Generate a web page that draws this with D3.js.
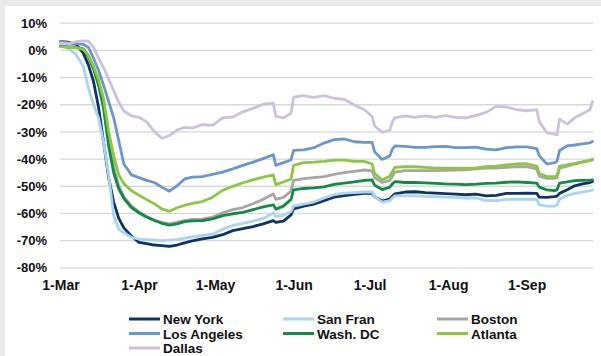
<!DOCTYPE html>
<html>
<head>
<meta charset="utf-8">
<script src="https://cdn.jsdelivr.net/npm/d3@7/dist/d3.min.js"></script>
<style>
  html, body { margin: 0; padding: 0; background: #e9eaec; }
  svg { display: block; }
  text { font-family: "Liberation Sans", Arial, sans-serif; font-weight: bold; fill: #111; }
</style>
</head>
<body>
<svg id="chart" width="601" height="356"></svg>
<script>
// Change in activity vs. baseline, %, by metro area (days counted from 1 March 2020)
const dayOffsets = [0, 3, 6, 9, 11, 13, 15, 17, 19, 21, 23, 25, 28, 31, 34, 37, 40, 43, 46, 49,
  52, 56, 60, 64, 68, 72, 76, 80, 84, 85, 88, 91, 92, 96, 100, 104, 108, 112, 116, 120,
  123, 124, 127, 130, 131, 132, 136, 140, 144, 148, 152, 156, 160, 164, 168, 172, 176, 180, 184, 188,
  189, 192, 195, 196, 197, 200, 203, 206, 209, 210];

const newYork = [3.0, 2.8, 2.2, -1.2, -5.5, -11.5, -21.0, -34.0, -47.0, -56.0, -62.0, -65.5, -68.5, -70.8, -71.3, -71.8, -72.0, -72.3, -71.8, -71.0,
  -70.3, -69.5, -69.0, -68.0, -66.5, -65.8, -65.0, -64.0, -62.8, -63.5, -63.0, -60.7, -58.5, -57.5, -56.8, -55.5, -54.2, -53.6, -53.2, -52.8,
  -52.7, -54.0, -55.6, -54.8, -53.8, -53.0, -52.3, -52.2, -52.5, -52.7, -52.9, -53.1, -53.3, -53.1, -53.7, -53.5, -52.8, -52.8, -52.7, -52.8,
  -54.2, -54.3, -54.0, -53.8, -52.8, -51.5, -50.0, -49.3, -48.8, -48.4];

const sanFran = [1.5, 0.5, -1.5, -6.0, -14.0, -20.0, -25.0, -34.0, -46.0, -61.0, -66.0, -67.3, -69.0, -69.6, -69.8, -70.0, -70.2, -70.0, -69.7, -69.3,
  -68.8, -68.3, -67.8, -66.0, -64.6, -63.8, -63.0, -62.0, -60.0, -61.3, -60.9, -59.5, -57.5, -56.8, -56.0, -54.5, -53.3, -52.7, -52.5, -52.3,
  -52.2, -54.0, -56.0, -55.5, -54.5, -53.7, -53.7, -53.7, -53.9, -54.0, -54.2, -54.3, -54.5, -54.5, -55.5, -55.5, -55.0, -55.0, -55.0, -55.0,
  -57.0, -57.5, -57.5, -57.0, -55.0, -53.5, -52.8, -52.3, -51.8, -51.5];

const boston = [1.5, 1.2, 1.0, 0.3, -2.0, -6.5, -12.0, -20.0, -32.0, -43.0, -50.0, -54.0, -57.5, -59.6, -61.3, -62.5, -63.5, -64.0, -63.5, -62.8,
  -62.4, -62.3, -61.5, -60.0, -58.8, -58.0, -56.6, -55.0, -53.0, -55.0, -54.3, -52.0, -48.0, -47.4, -47.0, -46.6, -45.8, -45.2, -44.7, -44.2,
  -44.5, -47.0, -48.8, -48.0, -46.5, -45.0, -44.4, -44.4, -44.4, -44.4, -44.3, -44.2, -44.1, -43.8, -43.5, -43.5, -43.2, -43.0, -43.0, -43.8,
  -46.5, -47.3, -47.3, -47.0, -43.5, -42.8, -42.0, -41.3, -40.8, -40.5];

const losAngeles = [3.0, 2.6, 2.3, 2.0, 1.0, -3.0, -7.5, -13.0, -19.0, -25.0, -33.5, -42.0, -46.0, -47.0, -48.0, -48.8, -50.5, -52.0, -50.0, -47.5,
  -46.8, -46.6, -45.8, -45.0, -43.8, -42.5, -41.3, -40.0, -38.6, -42.5, -41.5, -40.5, -37.0, -36.8, -36.0, -34.3, -33.0, -32.8, -33.8, -34.0,
  -34.0, -37.5, -40.3, -39.0, -36.5, -35.3, -35.5, -35.9, -35.9, -35.6, -35.5, -36.0, -36.0, -35.8, -36.5, -36.8, -36.0, -35.7, -35.7, -36.3,
  -39.0, -42.0, -41.5, -41.0, -37.0, -35.3, -35.0, -34.6, -34.2, -33.7];

const washDC = [1.3, 1.1, 1.0, 0.3, -2.5, -7.0, -13.0, -21.5, -35.4, -45.2, -51.1, -54.6, -58.0, -60.0, -61.5, -62.8, -63.8, -64.5, -64.0, -63.2,
  -62.9, -62.8, -62.2, -61.0, -60.3, -59.8, -58.8, -57.8, -57.0, -58.6, -57.5, -55.0, -51.5, -51.0, -50.8, -50.4, -49.5, -49.0, -48.6, -48.0,
  -47.8, -49.8, -51.4, -50.5, -49.3, -48.5, -48.8, -48.8, -48.9, -49.1, -49.3, -49.4, -49.6, -49.4, -49.1, -49.0, -48.7, -48.6, -48.8, -49.0,
  -50.5, -51.5, -51.8, -51.5, -49.0, -48.6, -48.1, -48.0, -47.9, -47.8];

const atlanta = [1.2, 1.0, 0.8, 0.2, -2.0, -6.0, -11.0, -18.0, -30.0, -39.0, -46.0, -49.2, -51.8, -53.5, -55.1, -56.6, -58.5, -59.4, -58.1, -57.2,
  -56.5, -55.8, -54.2, -51.7, -50.2, -48.9, -47.8, -46.8, -46.0, -49.6, -48.6, -47.5, -42.5, -41.5, -41.3, -41.0, -40.6, -40.6, -41.0, -41.0,
  -42.0, -45.5, -47.8, -46.5, -44.8, -43.2, -43.0, -43.0, -43.2, -43.5, -43.5, -43.5, -43.5, -43.4, -43.0, -42.8, -42.3, -42.0, -41.9, -42.8,
  -45.5, -46.6, -46.6, -46.3, -42.8, -42.3, -41.8, -41.2, -40.6, -40.2];

const dallas = [2.5, 2.2, 3.0, 3.3, 3.2, 1.0, -3.0, -6.5, -10.8, -15.0, -19.3, -22.5, -24.3, -24.8, -26.5, -30.0, -32.5, -31.5, -29.5, -28.5,
  -28.8, -27.5, -27.8, -25.0, -24.7, -22.8, -21.5, -20.0, -19.6, -24.5, -25.0, -23.3, -17.4, -16.8, -17.5, -16.8, -17.8, -18.2, -20.3, -22.0,
  -24.5, -28.0, -30.3, -29.5, -26.5, -25.0, -24.3, -24.8, -24.3, -24.8, -24.2, -24.8, -25.0, -24.1, -23.0, -20.8, -21.0, -22.0, -22.4, -22.0,
  -26.5, -30.5, -31.0, -31.3, -25.5, -27.3, -25.0, -23.5, -22.0, -19.0];

const cities = ["New York", "San Fran", "Boston", "Los Angeles", "Wash. DC", "Atlanta", "Dallas"];
const cityValues = [newYork, sanFran, boston, losAngeles, washDC, atlanta, dallas];
const cityColors = ["#0e3466", "#a9d4f2", "#a6a6a6", "#6b98cc", "#138a45", "#8dc641", "#cdc1de"];

const yTicks = [10, 0, -10, -20, -30, -40, -50, -60, -70, -80];
const monthTicks = ["2020-03-01", "2020-04-01", "2020-05-01", "2020-06-01", "2020-07-01", "2020-08-01", "2020-09-01"];

const svg = d3.select("#chart");

// white panel on the grey page
svg.append("rect").attr("x", 5).attr("y", 6).attr("width", 596).attr("height", 350).attr("fill", "#ffffff");

const parse = d3.utcParse("%Y-%m-%d");
const start = parse("2020-03-01");
const dates = dayOffsets.map(d => d3.utcDay.offset(start, d));

const x = d3.scaleUtc()
  .domain([start, d3.utcDay.offset(start, 210)])
  .range([60.5, 592.5]);

const y = d3.scaleLinear()
  .domain([-80, 10])
  .range([267.3, 22.7]);

// horizontal gridlines + percentage labels
const yAxis = svg.append("g")
  .attr("transform", "translate(60,0)")
  .call(d3.axisLeft(y)
    .tickValues(yTicks)
    .tickSizeInner(-533)
    .tickSizeOuter(0)
    .tickPadding(13)
    .tickFormat(d => d + "%"));
yAxis.select(".domain").remove();
yAxis.selectAll(".tick line").attr("stroke", "#d9d9d9").attr("stroke-width", 1.3);
yAxis.selectAll(".tick text")
  .attr("font-size", 13)
  .attr("font-family", "Liberation Sans, Arial, sans-serif")
  .attr("font-weight", "bold")
  .attr("fill", "#111")
  .attr("dy", "0.36em");

// month labels
const xAxis = svg.append("g")
  .attr("transform", "translate(0,267.3)")
  .call(d3.axisBottom(x)
    .tickValues(monthTicks.map(parse))
    .tickSize(0)
    .tickPadding(13)
    .tickFormat(d3.utcFormat("%-d-%b")));
xAxis.select(".domain").remove();
xAxis.selectAll(".tick text")
  .attr("font-size", 14)
  .attr("font-family", "Liberation Sans, Arial, sans-serif")
  .attr("font-weight", "bold")
  .attr("fill", "#111");

// series lines
const line = d3.line()
  .x((d, i) => x(dates[i]))
  .y(d => y(d));

const plot = svg.append("g");
cityValues.forEach((vals, i) => {
  plot.append("path")
    .datum(vals)
    .attr("fill", "none")
    .attr("stroke", cityColors[i])
    .attr("stroke-width", 2.8)
    .attr("stroke-linejoin", "round")
    .attr("stroke-linecap", "round")
    .attr("d", line);
});

// legend: three columns
const legend = svg.append("g");
const colX = [129, 283, 437];
const rowY = [319, 333.5, 348];
cities.forEach((name, i) => {
  const cx = colX[i % 3];
  const cy = rowY[Math.floor(i / 3)];
  legend.append("line")
    .attr("x1", cx).attr("x2", cx + 31)
    .attr("y1", cy).attr("y2", cy)
    .attr("stroke", cityColors[i])
    .attr("stroke-width", 3);
  legend.append("text")
    .attr("x", cx + 34)
    .attr("y", cy + 5)
    .attr("font-size", 13.5)
    .text(name);
});
</script>
</body>
</html>
